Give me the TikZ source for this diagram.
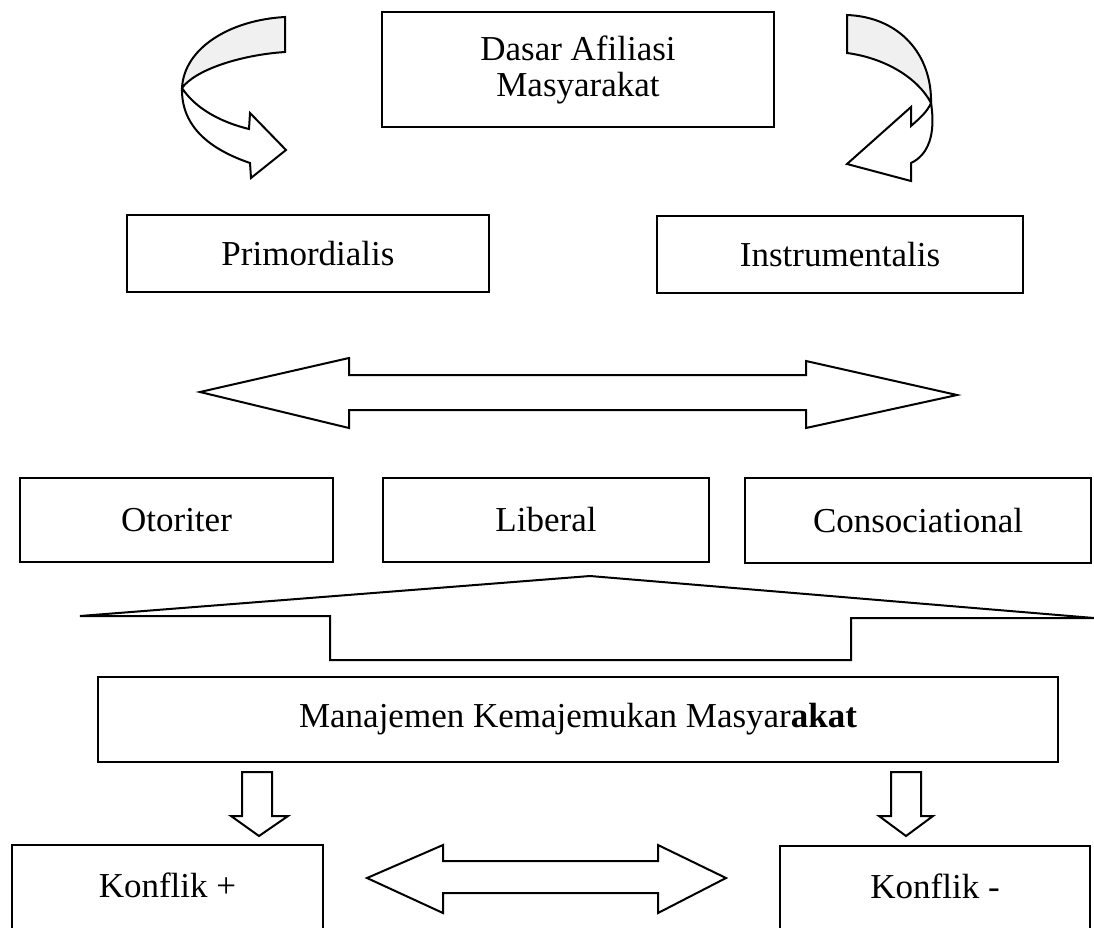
\documentclass[tikz,border=0pt]{standalone}
\usepackage{fontspec}
\setmainfont{Liberation Serif}
\begin{document}
\begin{tikzpicture}[x=1pt,y=-1pt,
  box/.style={draw, line width=2pt, rectangle, inner sep=0pt, align=center,
    font=\fontsize{35}{36}\selectfont},
  blockarrow/.style={draw, line width=2pt, line join=miter, fill=white},
  band/.style={draw, line width=2pt, line join=miter, fill=gray!12}]
\useasboundingbox (0,0) rectangle (1094,927);

% boxes
\node[box, minimum width=392pt, minimum height=115pt] (dasar) at (578,69.5) {Dasar Afiliasi\\Masyarakat};
\node[box, minimum width=362pt, minimum height=77pt] (prim) at (308,253.5) {Primordialis};
\node[box, minimum width=366pt, minimum height=77pt] (inst) at (840,254.5) {Instrumentalis};
\node[box, minimum width=313pt, minimum height=84pt] (otor) at (176.5,520) {Otoriter};
\node[box, minimum width=326pt, minimum height=84pt] (lib) at (546,520) {Liberal};
\node[box, minimum width=346pt, minimum height=85pt] (cons) at (918,520.5) {Consociational};
\node[box, minimum width=960pt, minimum height=85pt] (manaj) at (578,719.5) {Manajemen Kemajemukan Masyar\textbf{akat}};
\node[box, minimum width=311pt, minimum height=90pt] (kplus) at (167.5,890) {\raisebox{9pt}{Konflik +}};
\node[box, minimum width=310pt, minimum height=89pt, line width=2.4pt] (kmin) at (935,890.5) {\raisebox{9pt}{Konflik -}};

% left curved arrow
\draw[band] (285,17) .. controls (230,20) and (184,48) .. (182,88)
  .. controls (195,70) and (240,55) .. (285,52) -- cycle;
\draw[blockarrow] (182,88) .. controls (181,128) and (212,150) .. (250,163)
  -- (251,178) -- (286,150) -- (250,113) -- (249,129)
  .. controls (220,122) and (195,108) .. (182,88) -- cycle;

% right curved arrow
\draw[band] (847,15) .. controls (900,17) and (932,55) .. (931,103)
  .. controls (918,78) and (885,58) .. (847,53) -- cycle;
\draw[blockarrow] (931,103) .. controls (936,135) and (928,155) .. (911,163)
  -- (911,181) -- (847,164) -- (911,107) -- (911,126)
  .. controls (920,118) and (927,112) .. (931,103) -- cycle;

% double arrow between rows
\draw[blockarrow] (200,392) -- (349,358) -- (349,375) -- (806,375) -- (806,361)
  -- (957,395) -- (806,428) -- (806,410) -- (349,410) -- (349,428) -- cycle;

% roof arrow
\draw[blockarrow] (80,616) -- (590,576) -- (1094,618) -- (851,618) -- (851,660)
  -- (330,660) -- (330,616) -- cycle;

% down arrows
\draw[blockarrow] (242,772) -- (272,772) -- (272,816) -- (288,816) -- (259,836)
  -- (231,816) -- (242,816) -- cycle;
\draw[blockarrow] (891,772) -- (921,772) -- (921,816) -- (933,816) -- (906,836)
  -- (879,816) -- (891,816) -- cycle;

% bottom double arrow
\draw[blockarrow] (367,878) -- (443,845) -- (443,861) -- (658,861) -- (658,845)
  -- (726,878) -- (658,913) -- (658,893) -- (443,893) -- (443,913) -- cycle;
\end{tikzpicture}
\end{document}
